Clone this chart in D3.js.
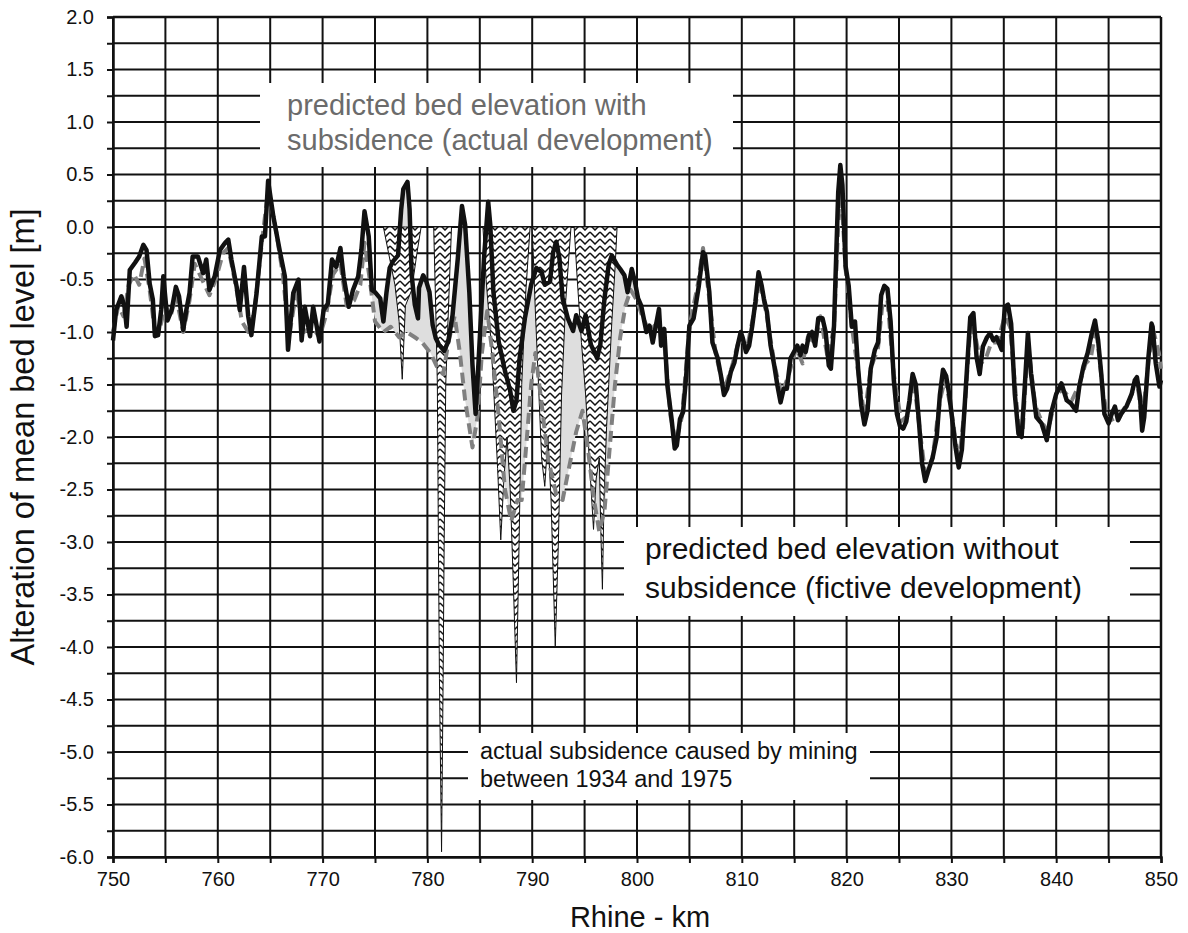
<!DOCTYPE html>
<html>
<head>
<meta charset="utf-8">
<script src="https://cdn.jsdelivr.net/npm/d3@7"></script>
<style>
  body { margin: 0; background: #fff; }
  svg { font-family: "Liberation Sans", Arial, sans-serif; }
</style>
</head>
<body>
<div id="chart"></div>
<script>
// black line: predicted bed elevation without subsidence (fictive)
var kmFictive = [750.0, 750.3, 750.8, 751.1, 751.3, 751.6, 752.1, 752.5, 752.9, 753.2, 753.5, 753.8, 754.0, 754.3, 754.6, 754.8,
  755.2, 755.6, 756.0, 756.3, 756.7, 757.0, 757.3, 757.6, 758.1, 758.6, 758.9, 759.2, 759.7, 760.2, 760.7, 761.0,
  761.3, 761.8, 762.1, 762.5, 762.9, 763.2, 763.7, 764.2, 764.5, 764.8, 765.3, 765.9, 766.4, 766.7, 767.2, 767.7,
  768.0, 768.3, 768.8, 769.1, 769.7, 770.1, 770.5, 770.9, 771.3, 771.7, 772.0, 772.5, 772.9, 773.4, 773.7, 774.0,
  774.4, 774.7, 775.0, 775.5, 775.8, 776.1, 776.4, 776.7, 777.2, 777.5, 777.7, 778.1, 778.3, 778.5, 778.8, 779.1,
  779.2, 779.6, 779.9, 780.2, 780.5, 780.8, 781.1, 781.6, 782.0, 782.4, 782.9, 783.3, 783.6, 784.0, 784.3, 784.6,
  784.9, 785.4, 785.8, 786.0, 786.3, 786.8, 787.4, 787.9, 788.2, 788.5, 788.8, 789.3, 789.9, 790.4, 790.9, 791.2,
  791.7, 792.0, 792.3, 792.6, 792.9, 793.4, 793.9, 794.2, 794.7, 795.1, 795.6, 796.2, 796.5, 796.9, 797.3, 797.6,
  798.1, 798.4, 798.8, 799.1, 799.5, 799.8, 800.1, 800.4, 800.9, 801.2, 801.5, 801.8, 802.1, 802.3, 802.6, 802.9,
  803.3, 803.6, 803.8, 804.1, 804.4, 804.7, 805.0, 805.4, 805.6, 805.9, 806.3, 806.5, 806.9, 807.2, 807.7, 808.0,
  808.3, 808.6, 808.95, 809.3, 809.6, 809.9, 810.1, 810.4, 810.7, 811.0, 811.3, 811.6, 811.9, 812.1, 812.4, 812.75,
  813.1, 813.4, 813.7, 814.0, 814.3, 814.65, 814.97, 815.3, 815.6, 815.8, 816.1, 816.4, 816.7, 817.0, 817.3, 817.7,
  818.0, 818.3, 818.5, 818.8, 819.0, 819.2, 819.4, 819.6, 819.9, 820.2, 820.5, 820.8, 821.1, 821.4, 821.7, 822.0,
  822.3, 822.7, 823.0, 823.3, 823.6, 823.9, 824.2, 824.5, 824.8, 825.1, 825.4, 825.7, 826.0, 826.3, 826.6, 826.9,
  827.2, 827.5, 827.8, 828.2, 828.6, 828.9, 829.2, 829.5, 829.8, 830.1, 830.4, 830.7, 831.0, 831.3, 831.6, 831.8,
  832.1, 832.4, 832.7, 833.0, 833.4, 833.7, 834.0, 834.3, 834.8, 835.1, 835.4, 835.7, 836.05, 836.4, 836.7, 837.0,
  837.3, 837.6, 838.1, 838.6, 839.1, 839.5, 840.0, 840.5, 841.0, 841.4, 841.9, 842.2, 842.6, 843.0, 843.4, 843.7,
  844.0, 844.3, 844.6, 845.0, 845.3, 845.6, 845.9, 846.2, 846.7, 847.2, 847.5, 847.7, 848.0, 848.2, 848.4, 848.8,
  849.1, 849.2, 849.5, 849.85, 850.0];
var bedFictive = [-1.08, -0.79, -0.66, -0.76, -0.95, -0.41, -0.34, -0.28, -0.17, -0.22, -0.54, -0.69, -1.04, -1.03, -0.79, -0.47,
  -0.89, -0.79, -0.57, -0.66, -0.98, -0.79, -0.63, -0.28, -0.28, -0.44, -0.31, -0.60, -0.47, -0.22, -0.15, -0.12,
  -0.31, -0.57, -0.79, -0.38, -0.85, -1.03, -0.63, -0.09, -0.09, 0.44, 0.10, -0.22, -0.47, -1.17, -0.63, -0.50,
  -1.08, -0.76, -1.04, -0.76, -1.09, -0.79, -0.73, -0.31, -0.38, -0.20, -0.47, -0.76, -0.60, -0.47, -0.22, 0.15,
  -0.09, -0.60, -0.62, -0.68, -0.90, -0.62, -0.39, -0.33, -0.27, 0.17, 0.36, 0.43, 0.17, -0.46, -0.74, -0.87,
  -0.58, -0.46, -0.52, -0.62, -0.93, -1.06, -1.12, -1.18, -1.09, -0.84, -0.30, 0.20, 0.02, -0.62, -1.31, -1.78,
  -1.25, -0.30, 0.24, 0.02, -0.62, -1.09, -1.37, -1.56, -1.75, -1.65, -1.25, -0.87, -0.55, -0.39, -0.43, -0.55,
  -0.52, -0.24, -0.14, -0.30, -0.68, -0.87, -0.99, -0.84, -0.99, -0.84, -1.12, -1.25, -1.12, -0.68, -0.36, -0.27,
  -0.36, -0.40, -0.46, -0.62, -0.40, -0.52, -0.68, -0.75, -1.00, -0.94, -1.10, -0.94, -0.78, -1.13, -0.97, -1.51,
  -1.83, -2.11, -2.08, -1.83, -1.76, -1.41, -0.94, -0.87, -0.75, -0.56, -0.24, -0.27, -0.62, -1.10, -1.25, -1.41,
  -1.60, -1.54, -1.38, -1.29, -1.13, -1.00, -1.06, -1.19, -1.13, -0.94, -0.71, -0.43, -0.56, -0.68, -0.81, -1.13,
  -1.32, -1.51, -1.67, -1.54, -1.54, -1.25, -1.19, -1.13, -1.22, -1.13, -1.19, -1.03, -1.00, -1.13, -0.87, -0.87,
  -1.00, -1.32, -1.35, -0.94, -0.30, 0.33, 0.59, 0.40, -0.37, -0.56, -0.95, -0.90, -1.35, -1.70, -1.88, -1.75,
  -1.35, -1.17, -1.10, -0.65, -0.56, -0.59, -0.90, -1.45, -1.78, -1.90, -1.92, -1.85, -1.65, -1.40, -1.50, -1.85,
  -2.25, -2.42, -2.32, -2.20, -2.00, -1.60, -1.36, -1.42, -1.60, -1.85, -2.10, -2.29, -2.12, -1.65, -1.17, -0.86,
  -0.82, -1.24, -1.40, -1.14, -1.05, -1.01, -1.08, -1.05, -1.17, -0.76, -0.74, -0.92, -1.59, -1.97, -2.00, -1.52,
  -1.01, -1.40, -1.81, -1.87, -2.03, -1.78, -1.59, -1.49, -1.65, -1.68, -1.75, -1.52, -1.33, -1.20, -1.01, -0.89,
  -1.08, -1.40, -1.78, -1.87, -1.78, -1.71, -1.84, -1.78, -1.71, -1.59, -1.46, -1.43, -1.62, -1.94, -1.81, -1.24,
  -0.92, -0.95, -1.30, -1.52, -1.46];

// grey dashed line: predicted bed elevation with subsidence (actual)
var kmActual = [750.0, 750.5, 751.0, 751.5, 752.0, 752.5, 753.0, 753.5, 754.0, 754.5, 755.0, 755.5, 756.0, 756.7, 757.3, 757.8,
  758.5, 759.2, 759.8, 760.5, 761.0, 761.8, 762.3, 762.9, 763.5, 764.2, 764.8, 765.5, 766.2, 766.8, 767.5, 768.2,
  769.0, 769.7, 770.3, 771.0, 771.7, 772.3, 773.0, 773.6, 774.0, 774.5, 775.0, 775.8, 776.5, 777.3, 778.0, 778.8,
  779.5, 780.3, 781.0, 781.5, 782.0, 782.6, 783.1, 783.6, 784.3, 784.8, 785.2, 785.7, 786.2, 786.8, 787.4, 788.0,
  788.6, 789.0, 789.5, 789.9, 790.3, 790.8, 791.5, 792.3, 792.9, 793.5, 794.2, 794.8, 795.3, 795.9, 796.4, 796.9,
  797.4, 797.9, 798.4, 798.9, 799.4, 800.0, 800.5, 801.2, 802.0, 802.6, 803.2, 803.7, 804.3, 805.0, 805.8, 806.3,
  806.8, 807.5, 808.3, 809.0, 809.8, 810.5, 811.3, 811.7, 812.3, 813.2, 813.8, 814.5, 815.2, 815.8, 816.3, 817.0,
  817.5, 818.2, 818.8, 819.4, 819.9, 820.5, 821.2, 821.7, 822.3, 823.0, 823.4, 823.9, 824.5, 825.2, 825.8, 826.4,
  827.0, 827.5, 828.2, 828.9, 829.4, 830.0, 830.7, 831.3, 831.8, 832.3, 832.8, 833.3, 833.8, 834.4, 835.1, 835.6,
  836.4, 836.8, 837.3, 838.0, 838.6, 839.2, 840.0, 840.6, 841.5, 842.2, 842.8, 843.3, 843.8, 844.5, 845.0, 846.0,
  847.0, 847.7, 848.2, 848.9, 849.3, 849.8, 850.0];
var bedActual = [-1.00, -0.75, -0.85, -0.55, -0.45, -0.55, -0.30, -0.60, -1.00, -0.95, -0.75, -0.85, -0.65, -1.00, -0.70, -0.35,
  -0.50, -0.65, -0.50, -0.25, -0.20, -0.60, -0.90, -1.00, -0.80, -0.15, 0.35, 0.00, -0.45, -1.05, -0.60, -1.00,
  -0.95, -1.05, -0.85, -0.45, -0.35, -0.75, -0.70, -0.55, -0.15, -0.50, -0.90, -1.00, -0.95, -1.05, -1.00, -1.05,
  -1.10, -1.20, -1.35, -1.40, -1.10, -0.85, -1.20, -1.65, -2.10, -1.80, -1.20, -0.80, -1.20, -1.80, -2.50, -2.80,
  -2.60, -2.60, -2.00, -1.50, -1.20, -1.60, -2.20, -2.55, -2.60, -2.30, -1.95, -1.75, -2.10, -2.60, -2.90, -2.70,
  -2.10, -1.50, -1.05, -0.75, -0.60, -0.70, -0.85, -1.00, -0.90, -1.10, -1.80, -2.05, -1.80, -0.95, -0.55, -0.20,
  -0.60, -1.20, -1.55, -1.35, -1.05, -1.15, -0.75, -0.50, -0.80, -1.35, -1.60, -1.40, -1.15, -1.30, -1.05, -1.10,
  -0.85, -1.25, -0.95, 0.50, -0.40, -0.95, -1.45, -1.80, -1.35, -1.15, -0.75, -0.70, -1.40, -1.85, -1.80, -1.45,
  -1.95, -2.35, -2.20, -1.65, -1.45, -1.75, -2.25, -1.70, -0.95, -1.05, -1.30, -1.25, -1.10, -1.10, -0.85, -0.95,
  -1.90, -1.95, -1.10, -1.70, -1.85, -1.95, -1.60, -1.55, -1.65, -1.50, -1.30, -1.25, -0.95, -1.60, -1.85, -1.80,
  -1.65, -1.45, -1.85, -1.20, -1.00, -1.20, -1.35];

// hatched: actual subsidence caused by mining 1934-1975 (m, drawn downward from 0)
var kmMining = [775.8, 776.3, 776.9, 777.3, 777.6, 777.9, 778.5, 779.0, 779.4, 780.6, 780.8, 780.95, 781.05, 781.15, 781.35, 781.5,
  781.6, 781.75, 782.0, 782.3, 785.3, 785.6, 786.0, 786.3, 786.7, 787.0, 787.3, 787.6, 787.9, 788.2, 788.5, 788.75,
  789.0, 789.4, 789.8, 790.0, 790.3, 790.6, 790.9, 791.2, 791.5, 791.8, 792.0, 792.2, 792.5, 792.8, 793.2, 793.7,
  794.0, 794.3, 794.7, 795.1, 795.5, 795.85, 796.1, 796.4, 796.55, 796.7, 796.85, 797.1, 797.3, 797.6, 797.9, 798.1];
var subsidence = [0, 0.25, 0.55, 0.9, 1.45, 0.75, 0.6, 0.25, 0, 0, 0.8, 1.5, 3.0, 4.3, 5.95, 4.3,
  3.0, 1.5, 0.8, 0, 0, 0.5, 1.0, 1.5, 2.3, 2.98, 2.4, 2.0, 2.5, 3.4, 4.34, 3.0,
  1.5, 0.6, 0, 0, 0.8, 1.5, 2.2, 2.47, 2.0, 2.6, 3.3, 3.99, 3.0, 1.6, 0.7, 0,
  0, 0.5, 1.1, 1.6, 2.3, 2.88, 2.4, 2.2, 2.9, 3.45, 2.6, 1.9, 1.5, 0.9, 0.4, 0];

var xTicks = [750, 755, 760, 765, 770, 775, 780, 785, 790, 795, 800, 805, 810, 815, 820, 825, 830, 835, 840, 845, 850];
var xTickLabels = ["750", "", "760", "", "770", "", "780", "", "790", "", "800", "", "810", "", "820", "", "830", "", "840", "", "850"];
var yTicks = d3.range(-6, 2.001, 0.25);

(function() {
  var W = 1188, H = 933, left = 113, right = 1161, top = 17, bottom = 857;
  var x, y, svg, g, fictive, actual, mining, band, lineGen, hatchArea, pat;

  x = d3.scaleLinear().domain([750, 850]).range([left, right]);
  y = d3.scaleLinear().domain([-6, 2]).range([bottom, top]);

  fictive = kmFictive.map(function(k, i) { return {k: k, v: bedFictive[i]}; });
  actual = kmActual.map(function(k, i) { return {k: k, v: bedActual[i]}; });
  mining = kmMining.map(function(k, i) { return {k: k, s: subsidence[i]}; });

  svg = d3.select("#chart").append("svg").attr("width", W).attr("height", H);
  svg.append("rect").attr("width", W).attr("height", H).attr("fill", "#fff");

  // chevron hatch pattern
  pat = svg.append("defs").append("pattern").attr("id", "hatch")
    .attr("patternUnits", "userSpaceOnUse").attr("width", 10).attr("height", 7);
  pat.append("rect").attr("width", 10).attr("height", 7).attr("fill", "#fff");
  pat.append("path").attr("d", "M0,1 L5,6 L10,1")
    .attr("fill", "none").attr("stroke", "#111").attr("stroke-width", 1.5);

  // grid
  g = svg.append("g");
  g.selectAll("line.h").data(yTicks).enter().append("line")
    .attr("x1", left).attr("x2", right)
    .attr("y1", function(d) { return y(d); }).attr("y2", function(d) { return y(d); })
    .attr("stroke", "#111").attr("stroke-width", 2);
  g.selectAll("line.v").data(xTicks).enter().append("line")
    .attr("y1", top).attr("y2", bottom)
    .attr("x1", function(d) { return x(d); }).attr("x2", function(d) { return x(d); })
    .attr("stroke", "#111").attr("stroke-width", 2);

  // axes (ticks + labels)
  svg.append("g").attr("transform", "translate(" + left + ",0)")
    .call(d3.axisLeft(y).tickValues(yTicks).tickSize(6).tickPadding(13)
      .tickFormat(function(d) { return Math.abs(d * 2 - Math.round(d * 2)) < 1e-6 ? d.toFixed(1) : ""; }))
    .call(function(a) {
      a.select(".domain").attr("stroke", "#111").attr("stroke-width", 2.5);
      a.selectAll(".tick line").attr("stroke", "#111").attr("stroke-width", 2);
      a.selectAll(".tick text").attr("font-size", 20).attr("fill", "#111").attr("font-family", "Liberation Sans, Arial, sans-serif");
    });
  svg.append("g").attr("transform", "translate(0," + bottom + ")")
    .call(d3.axisBottom(x).tickValues(xTicks).tickSize(6).tickPadding(9)
      .tickFormat(function(d, i) { return xTickLabels[i]; }))
    .call(function(a) {
      a.select(".domain").attr("stroke", "#111").attr("stroke-width", 2.5);
      a.selectAll(".tick line").attr("stroke", "#111").attr("stroke-width", 2);
      a.selectAll(".tick text").attr("font-size", 20).attr("fill", "#111").attr("font-family", "Liberation Sans, Arial, sans-serif");
    });
  svg.append("line").attr("x1", right).attr("x2", right).attr("y1", top).attr("y2", bottom)
    .attr("stroke", "#111").attr("stroke-width", 2.5);
  svg.append("line").attr("x1", left).attr("x2", right).attr("y1", top).attr("y2", top)
    .attr("stroke", "#111").attr("stroke-width", 2.5);

  // white label boxes over the grid
  [[260, 83, 473, 84], [624, 527, 506, 89], [468, 733, 402, 67]].forEach(function(b) {
    svg.append("rect").attr("x", b[0]).attr("y", b[1]).attr("width", b[2]).attr("height", b[3]).attr("fill", "#fff");
  });

  // light grey band between the two predictions in the mining reach
  band = fictive.filter(function(d) { return d.k >= 774.5 && d.k <= 800.5; })
    .concat(actual.filter(function(d) { return d.k >= 774.5 && d.k <= 800.5; }).reverse());
  svg.append("path").datum(band)
    .attr("d", d3.line().x(function(d) { return x(d.k); }).y(function(d) { return y(d.v); }))
    .attr("fill", "#dedede").attr("stroke", "none");

  // subsidence hatch
  hatchArea = d3.area().x(function(d) { return x(d.k); })
    .y0(y(0)).y1(function(d) { return y(-d.s); });
  svg.append("path").datum(mining).attr("d", hatchArea)
    .attr("fill", "url(#hatch)").attr("stroke", "#111").attr("stroke-width", 1);

  lineGen = d3.line().x(function(d) { return x(d.k); }).y(function(d) { return y(d.v); });
  svg.append("path").datum(actual).attr("d", lineGen)
    .attr("fill", "none").attr("stroke", "#808080").attr("stroke-width", 4)
    .attr("stroke-dasharray", "11,6").attr("stroke-linejoin", "round");
  svg.append("path").datum(fictive).attr("d", lineGen)
    .attr("fill", "none").attr("stroke", "#111").attr("stroke-width", 4.5)
    .attr("stroke-linejoin", "round");

  // annotations
  svg.append("text").attr("x", 287).attr("y", 115).attr("font-size", 29).attr("fill", "#6b6b6b")
    .text("predicted bed elevation with");
  svg.append("text").attr("x", 287).attr("y", 150).attr("font-size", 29).attr("fill", "#6b6b6b")
    .text("subsidence (actual development)");
  svg.append("text").attr("x", 645).attr("y", 559).attr("font-size", 30).attr("fill", "#111")
    .text("predicted bed elevation without");
  svg.append("text").attr("x", 645).attr("y", 598).attr("font-size", 30).attr("fill", "#111")
    .text("subsidence (fictive development)");
  svg.append("text").attr("x", 480).attr("y", 759).attr("font-size", 23.5).attr("fill", "#111")
    .text("actual subsidence caused by mining");
  svg.append("text").attr("x", 480).attr("y", 787).attr("font-size", 23.5).attr("fill", "#111")
    .text("between 1934 and 1975");

  // axis titles
  svg.append("text").attr("x", 640).attr("y", 927).attr("text-anchor", "middle")
    .attr("font-size", 29).attr("fill", "#111").text("Rhine - km");
  svg.append("text").attr("transform", "translate(34,437) rotate(-90)").attr("text-anchor", "middle")
    .attr("font-size", 32.5).attr("fill", "#111").text("Alteration of mean bed level [m]");
}).call(this);
</script>
</body>
</html>
